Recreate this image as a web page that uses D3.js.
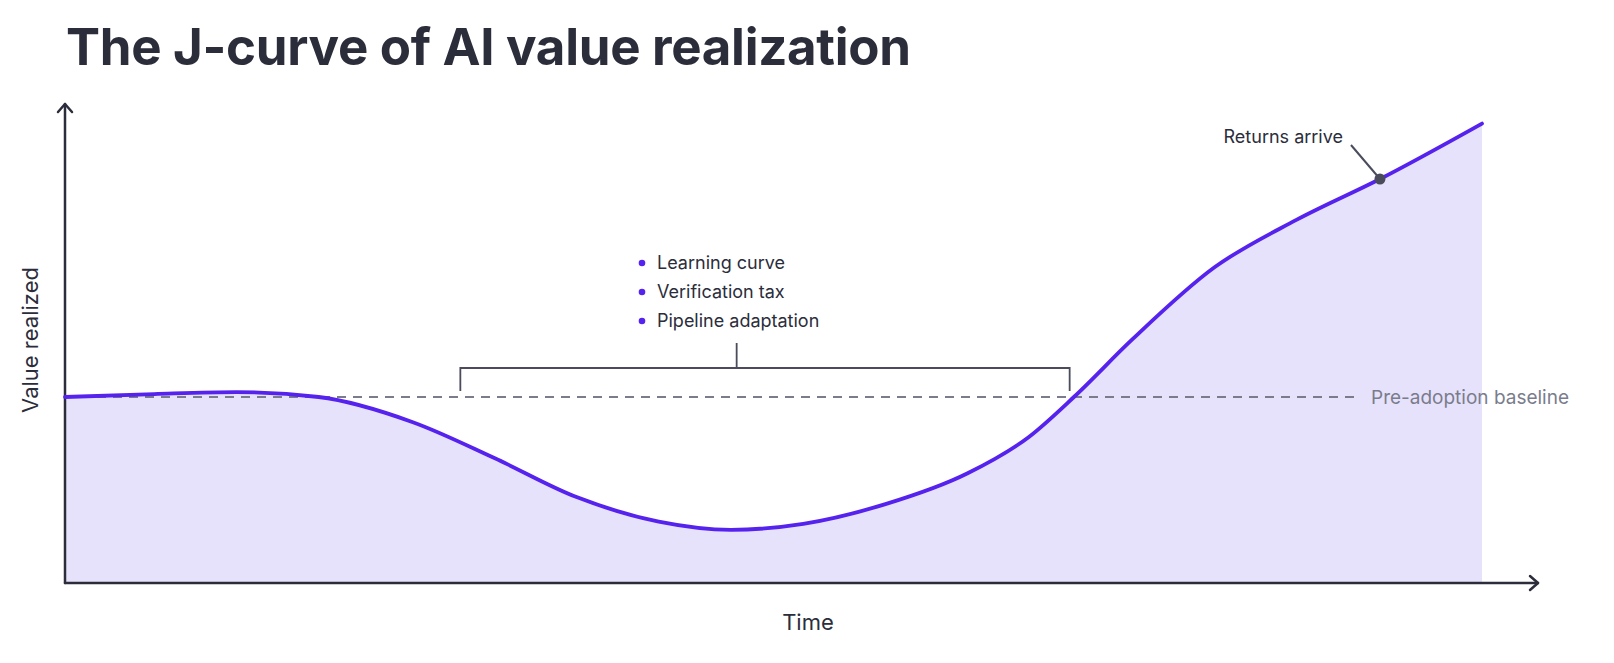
<!DOCTYPE html>
<html><head><meta charset="utf-8">
<script src="https://cdn.jsdelivr.net/npm/d3@7"></script>
<style>body{margin:0;background:#fff}svg{display:block}</style>
</head><body>
<svg id="c" width="1614" height="663"></svg>
<script>
const timeX = [0, 6.3, 12.1, 17.9, 24.5, 30.3, 36.1, 41.9, 47, 52.1, 57.9, 63.7, 68, 71.2, 75.3, 81.1, 86.9, 92.8, 100];
const valueY = [50, 50.8, 51.3, 50, 43.3, 33.6, 23.1, 16.5, 14.3, 15.9, 21.2, 29.5, 39.2, 50, 65.4, 84.8, 97.6, 108.6, 123.5];
const baselineValue = 50;
const bullets = ["Learning curve", "Verification tax", "Pipeline adaptation"];
const bracketRange = [27.9, 70.9];
const bracketCenter = 47.4;
const returnsPoint = [92.8, 108.6];

const svg = d3.select("#c");
const font = "Inter, 'Noto Sans', sans-serif";
const x = d3.scaleLinear().domain([0,100]).range([65,1482]);
const y = d3.scaleLinear().domain([0,50]).range([583,397]);
const data = timeX.map((t,i)=>({t, v:valueY[i]}));
const ink = "#2b2d3b";

svg.append("text").attr("x",66).attr("y",65).attr("font-family",font).attr("font-weight",700)
  .attr("font-size",51).attr("fill",ink).attr("letter-spacing",-0.3).text("The J-curve of AI value realization");

svg.append("path").datum(data).attr("fill","#e7e2fb")
  .attr("d", d3.area().x(d=>x(d.t)).y0(y(0)).y1(d=>y(d.v)).curve(d3.curveMonotoneX));

const ax = svg.append("g").attr("stroke",ink).attr("stroke-width",2.5).attr("fill","none").attr("stroke-linecap","round").attr("stroke-linejoin","round");
ax.append("line").attr("x1",65).attr("y1",583).attr("x2",65).attr("y2",104);
ax.append("path").attr("d","M58,112 L65,104 L72,112");
ax.append("line").attr("x1",65).attr("y1",583).attr("x2",1538).attr("y2",583);
ax.append("path").attr("d","M1530,576 L1538,583 L1530,590");

svg.append("line").attr("x1",x(0)).attr("x2",1358).attr("y1",y(baselineValue)).attr("y2",y(baselineValue))
  .attr("stroke","#7a7c8c").attr("stroke-width",1.8).attr("stroke-dasharray","9,7");
svg.append("text").attr("x",1371).attr("y",y(baselineValue)+7).attr("font-family",font).attr("font-size",19)
  .attr("fill","#7a7c8c").text("Pre-adoption baseline");

svg.append("path").datum(data).attr("fill","none").attr("stroke","#5522ee").attr("stroke-width",3.8)
  .attr("stroke-linecap","round")
  .attr("d", d3.line().x(d=>x(d.t)).y(d=>y(d.v)).curve(d3.curveMonotoneX));

const bx0 = x(bracketRange[0]), bx1 = x(bracketRange[1]), bm = x(bracketCenter);
svg.append("path").attr("fill","none").attr("stroke","#4a4c5c").attr("stroke-width",1.8)
  .attr("d",`M${bx0},391 V368 H${bx1} V391 M${bm},368 V343`);
bullets.forEach((b,i)=>{
  const yy = 263 + i*29;
  svg.append("circle").attr("cx",642).attr("cy",yy).attr("r",3.3).attr("fill","#5522ee");
  svg.append("text").attr("x",657).attr("y",yy+6).attr("font-family",font).attr("font-size",18).attr("fill",ink).text(b);
});

const rx = x(returnsPoint[0]), ry = y(returnsPoint[1]);
svg.append("line").attr("x1",1351).attr("y1",145).attr("x2",rx).attr("y2",ry).attr("stroke","#4a4c5c").attr("stroke-width",2);
svg.append("circle").attr("cx",rx).attr("cy",ry).attr("r",5.5).attr("fill","#4a4c5c");
svg.append("text").attr("x",1343).attr("y",143).attr("text-anchor","end").attr("font-family",font).attr("font-size",18).attr("fill",ink).text("Returns arrive");

svg.append("text").attr("x",808).attr("y",630).attr("text-anchor","middle").attr("font-family",font).attr("font-size",22).attr("fill",ink).text("Time");
svg.append("text").attr("transform","translate(38,340) rotate(-90)").attr("text-anchor","middle").attr("font-family",font).attr("font-size",22).attr("fill",ink).text("Value realized");
</script>
</body></html>
